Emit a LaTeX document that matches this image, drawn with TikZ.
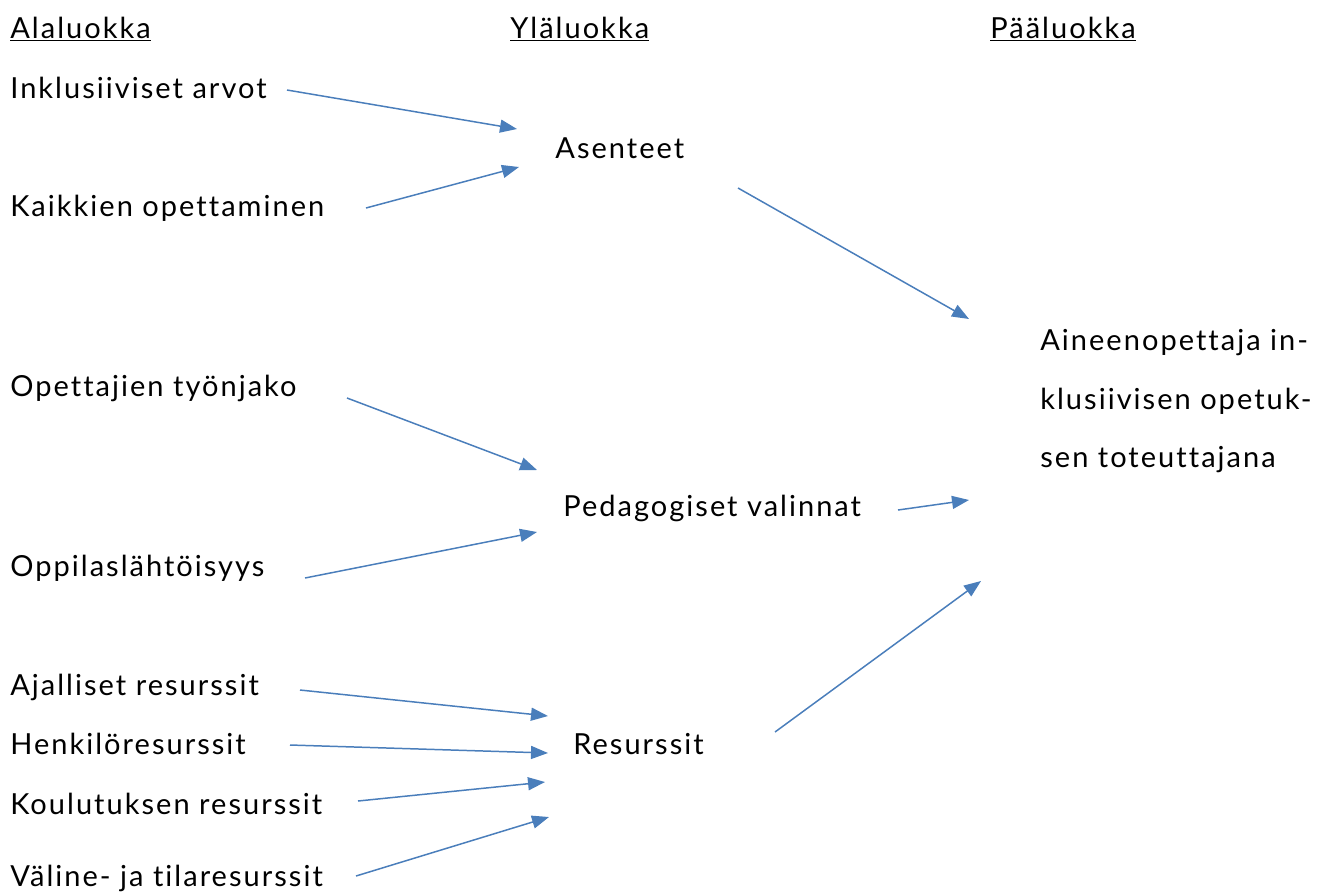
\documentclass[tikz,border=0pt]{standalone}
\usepackage{fontspec}
\setmainfont{Lato}[LetterSpace=7, Ligatures={NoCommon}]
\usetikzlibrary{arrows.meta}
\definecolor{nuoli}{HTML}{4A7EBB}

\begin{document}
\begin{tikzpicture}[x=0.02cm, y=-0.02cm,
    teksti/.style={anchor=base west, inner sep=0pt, font=\fontsize{16.5}{20}\selectfont},
    nuoli/.style={draw=nuoli, line width=0.85pt, -{Triangle[length=0.34cm, width=0.26cm]}}]
	\useasboundingbox (0,0) rectangle (1327,893);

	% otsikot
	\node[teksti] (ala) at (10,38) {\underline{Alaluokka}};
	\node[teksti] (yla) at (510,38) {\underline{Yläluokka}};
	\node[teksti] (paa) at (990,38) {\underline{Pääluokka}};

	% alaluokat
	\node[teksti] (arvot) at (10,98) {Inklusiiviset arvot};
	\node[teksti] (kaikki) at (10,216) {Kaikkien opettaminen};
	\node[teksti] (tyonjako) at (10,396) {Opettajien työnjako};
	\node[teksti] (oppilas) at (10,576) {Oppilaslähtöisyys};
	\node[teksti] (ajalliset) at (10,695) {Ajalliset resurssit};
	\node[teksti] (henkilo) at (10,754) {Henkilöresurssit};
	\node[teksti] (koulutus) at (10,814) {Koulutuksen resurssit};
	\node[teksti] (valine) at (10,886) {Väline- ja tilaresurssit};

	% yläluokat
	\node[teksti] (asenteet) at (555,158) {Asenteet};
	\node[teksti] (pedagogiset) at (563,516) {Pedagogiset valinnat};
	\node[teksti] (resurssit) at (573,754) {Resurssit};

	% pääluokka
	\node[teksti] (aine1) at (1040,350) {Aineenopettaja in-};
	\node[teksti] (aine2) at (1040,409) {klusiivisen opetuk-};
	\node[teksti] (aine3) at (1040,467) {sen toteuttajana};

	% nuolten päät
	\coordinate (a1) at (287,90);   \coordinate (b1) at (517,129);
	\coordinate (a2) at (366,208);  \coordinate (b2) at (519,167);
	\coordinate (a3) at (738,188);  \coordinate (b3) at (969,319);
	\coordinate (a4) at (347,398);  \coordinate (b4) at (537,470);
	\coordinate (a5) at (305,578);  \coordinate (b5) at (537,532);
	\coordinate (a6) at (898,510);  \coordinate (b6) at (969,500);
	\coordinate (a7) at (775,732);  \coordinate (b7) at (981,581);
	\coordinate (a8) at (300,690);  \coordinate (b8) at (548,716);
	\coordinate (a9) at (290,745);  \coordinate (b9) at (548,753);
	\coordinate (a10) at (358,801); \coordinate (b10) at (545,782);
	\coordinate (a11) at (356,876); \coordinate (b11) at (549,817);

	% nuolet
	\foreach \i in {1,...,11}
		\draw[nuoli] (a\i) -- (b\i);

\end{tikzpicture}
\end{document}
